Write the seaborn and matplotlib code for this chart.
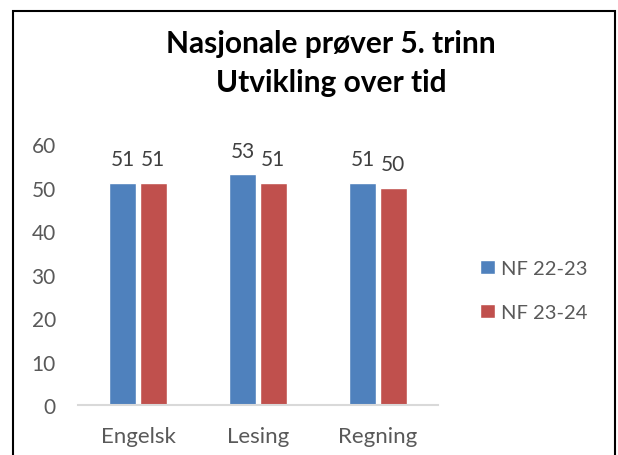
import matplotlib
matplotlib.use('Agg')
import matplotlib.pyplot as plt
from matplotlib.patches import Rectangle
import pandas as pd
import seaborn as sns

# %% ── Data ───────────────────────────────────────────────
subjects = ['Engelsk', 'Lesing', 'Regning']
series_names = ['NF 22-23', 'NF 23-24']
nf_22_23 = [51, 53, 51]
nf_23_24 = [51, 51, 50]
y_ticks = [0, 10, 20, 30, 40, 50, 60]

df = pd.DataFrame({
    'Fag': subjects * 2,
    'Serie': [series_names[0]] * 3 + [series_names[1]] * 3,
    'Verdi': nf_22_23 + nf_23_24,
})

# %% ── Style ──────────────────────────────────────────────
sns.set_style('white')
plt.rcParams['font.family'] = ['Lato', 'DejaVu Sans']

colors = ['#4F81BD', '#C0504D']
tick_color = '#595959'

fig = plt.figure(figsize=(6.18, 4.56), dpi=100)
ax = fig.add_axes([0.1262, 0.1096, 0.5825, 0.5724])

sns.barplot(data=df, x='Fag', y='Verdi', hue='Serie', palette=colors,
            width=0.51, gap=0.12, saturation=1, ax=ax)

for cont in ax.containers:
    ax.bar_label(cont, padding=10, fontsize=15, color='#404040')

ax.set_xlim(-0.5, 2.5)
ax.set_ylim(0, 60)
ax.set_yticks(y_ticks)
ax.set_xlabel('')
ax.set_ylabel('')
ax.tick_params(axis='y', length=0, pad=16, labelsize=15, labelcolor=tick_color)
ax.tick_params(axis='x', length=0, pad=15, labelsize=16, labelcolor=tick_color)
sns.despine(ax=ax, left=True)
ax.spines['bottom'].set_color('#D9D9D9')
ax.spines['bottom'].set_linewidth(1.5)

# legend on the right
ax.legend(loc='center left', bbox_to_anchor=(0.777, 0.361),
          bbox_transform=fig.transFigure, frameon=False, fontsize=14.5,
          handlelength=0.72, handleheight=0.72, handletextpad=0.3,
          labelspacing=1.35, borderpad=0, borderaxespad=0,
          labelcolor=tick_color)

# title, two lines
fig.text(0.536, 0.8838, 'Nasjonale prøver 5. trinn', ha='center', va='baseline',
         fontsize=21.5, fontweight='bold', color='black')
fig.text(0.536, 0.7982, 'Utvikling over tid', ha='center', va='baseline',
         fontsize=21.5, fontweight='bold', color='black')

# chart border
fig.patches.append(Rectangle((13 / 618, -0.05), 602 / 618, 1.05 - 12 / 456,
                             transform=fig.transFigure, fill=False,
                             edgecolor='black', linewidth=1.5, clip_on=False))

plt.savefig('out.png', dpi=100)
